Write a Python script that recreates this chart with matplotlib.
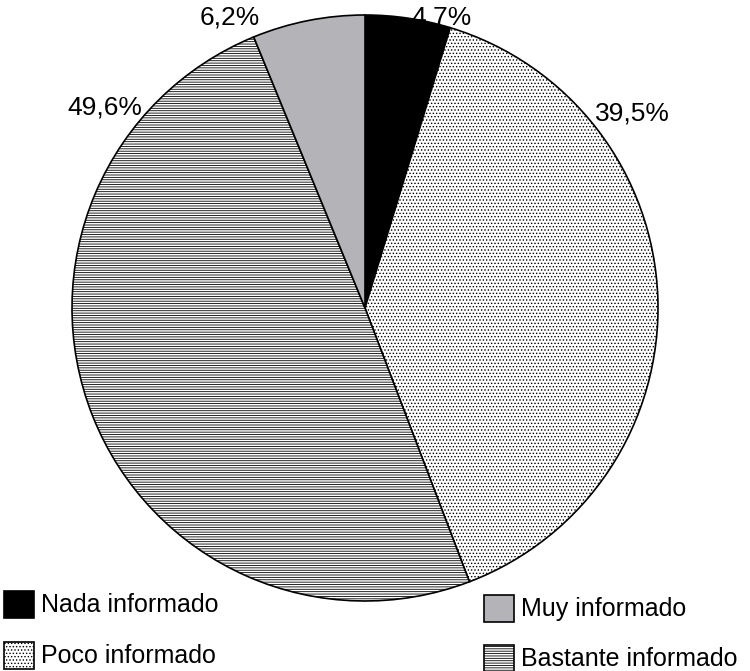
import matplotlib
matplotlib.use("Agg")
import matplotlib.pyplot as plt
from matplotlib.patches import Rectangle

categories = ["Nada informado", "Poco informado", "Bastante informado", "Muy informado"]
values = [4.7, 39.5, 49.6, 6.2]
labels = ["4,7%", "39,5%", "49,6%", "6,2%"]

plt.rcParams['font.family'] = ['Liberation Sans Narrow', 'Liberation Sans', 'DejaVu Sans']
plt.rcParams['hatch.linewidth'] = 0.6
fig = plt.figure(figsize=(7.5, 6.71), dpi=100)
ax = fig.add_axes([0, 0, 1, 1])
faces = ['black', 'white', 'white', '#b4b4b8']
hatches = [None, '.....', '-------', None]
wedges, _ = ax.pie(values, startangle=90, counterclock=False, center=(365, 363), radius=293,
                   colors=faces, wedgeprops=dict(edgecolor='black', linewidth=1.2))
for w, h in zip(wedges, hatches):
    if h: w.set_hatch(h)
ax.set_xlim(0, 750); ax.set_ylim(0, 671); ax.set_aspect('equal'); ax.axis('off')

pos = [(442, 654), (632, 558), (105, 563), (230, 654)]
for (x, y), t in zip(pos, labels):
    ax.text(x, y, t, fontsize=19, ha='center', va='center')

leg = [(4, 66, 0), (4, 15, 1), (484, 62, 3), (484, 12, 2)]
for x, y, i in leg:
    r = Rectangle((x, y - 13), 30, 27, facecolor=faces[i], edgecolor='black', linewidth=1.2,
                  hatch=hatches[i])
    ax.add_patch(r)
    ax.text(x + 37, y, categories[i], fontsize=18, va='center', ha='left')

fig.savefig("out.png", dpi=100)
